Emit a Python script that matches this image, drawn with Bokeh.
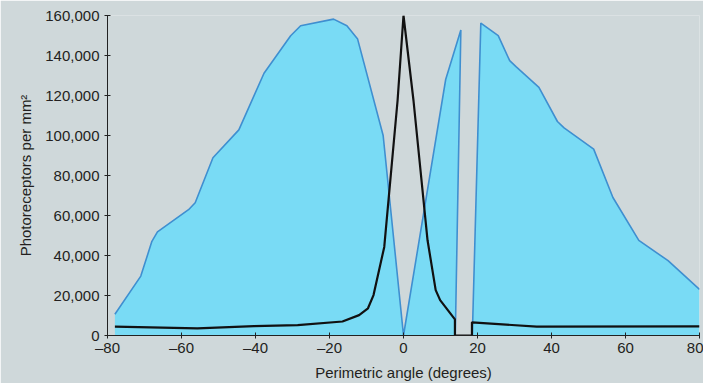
from bokeh.plotting import figure
from bokeh.models import FixedTicker, NumeralTickFormatter, Range1d
from bokeh.embed import file_html
from bokeh.resources import INLINE

# Rods (blue area), left of the blind spot
rods_left_x = [-78, -71, -68, -66.5, -58.1, -56.3, -51.5, -44.5, -37.7, -30.5, -27.8,
               -18.9, -15.3, -12.4, -5.5, 0, 11.4, 15.5, 14.0]
rods_left_y = [10600, 29700, 47100, 51800, 62900, 66400, 88900, 102800, 131100, 149900, 154900,
               158200, 154900, 148200, 100000, 0, 128000, 152700, 0]
# Rods, right of the blind spot
rods_right_x = [18.6, 20.9, 25.6, 28.7, 30.4, 36.6, 41.6, 43.4, 51.4, 56.6, 63.6, 71.5, 80]
rods_right_y = [0, 156200, 149900, 137400, 134400, 124100, 107000, 103800, 93200, 69000, 47600, 37400, 23000]

# Cones (black line)
cones_x = [-78, -55.7, -40.4, -28.6, -16.5, -12.0, -9.6, -8.1, -5.2, -1.6, 0,
           2.7, 6.5, 8.7, 9.9, 13.9, 13.9, 18.5, 18.5, 36, 80]
cones_y = [4400, 3600, 4700, 5200, 7000, 10200, 13600, 20200, 44300, 117500, 160000,
           117500, 47600, 22700, 17700, 8100, 0, 0, 6600, 4400, 4600]

x_ticks = [-80, -60, -40, -20, 0, 20, 40, 60, 80]
x_tick_labels = ["\u201380", "\u201360", "\u201340", "\u201320", "0", "20", "40", "60", "80"]
y_ticks = [0, 20000, 40000, 60000, 80000, 100000, 120000, 140000, 160000]

BG = "#cfd8da"
FILL = "#79dbf5"
EDGE = "#3f8fd0"
TXT = "#231f20"
FONT = "Liberation Sans"

p = figure(width=703, height=383, output_backend="svg", toolbar_location=None,
           x_range=Range1d(-80, 80), y_range=Range1d(0, 160000),
           min_border_left=107, min_border_right=4, min_border_top=15, min_border_bottom=47)
p.background_fill_color = BG
p.border_fill_color = BG
p.outline_line_color = None
p.grid.visible = False

p.patch(rods_left_x + [rods_left_x[0]], rods_left_y + [0], fill_color=FILL, line_color=None)
p.patch(rods_right_x + [rods_right_x[-1]], rods_right_y + [0], fill_color=FILL, line_color=None)
p.line(rods_left_x, rods_left_y, line_color=EDGE, line_width=1.6)
p.line(rods_right_x, rods_right_y, line_color=EDGE, line_width=1.6)
p.line(cones_x, cones_y, line_color="#111111", line_width=2.2)

for ax in (p.xaxis[0], p.yaxis[0]):
    ax.axis_line_color = "#222222"
    ax.major_tick_line_color = "#222222"
    ax.major_tick_in = 3
    ax.major_tick_out = 3
    ax.minor_tick_line_color = None
    ax.major_label_text_font = FONT
    ax.major_label_text_font_size = "15px"
    ax.major_label_text_color = TXT
    ax.axis_label_text_font = FONT
    ax.axis_label_text_font_size = "15px"
    ax.axis_label_text_font_style = "normal"
    ax.axis_label_text_color = TXT

p.xaxis.ticker = FixedTicker(ticks=x_ticks)
p.xaxis.major_label_overrides = dict(zip(x_ticks, x_tick_labels))
p.xaxis.axis_label = "Perimetric angle (degrees)"
p.xaxis.major_label_standoff = 0
p.xaxis.axis_label_standoff = 5

p.yaxis.ticker = FixedTicker(ticks=y_ticks)
p.yaxis.formatter = NumeralTickFormatter(format="0,0")
p.yaxis.axis_label = "Photoreceptors per mm\u00b2"
p.yaxis.major_label_standoff = 5
p.yaxis.axis_label_standoff = 8

open("out.html", "w").write(file_html(p, INLINE))
